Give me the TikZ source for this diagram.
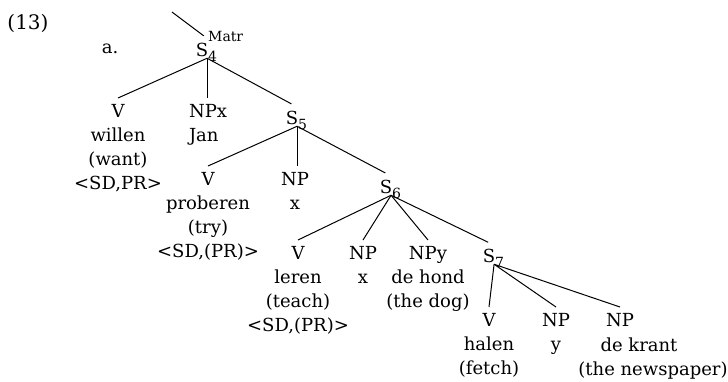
\documentclass[tikz,border=0pt]{standalone}
\usepackage{fontspec}
\setmainfont{DejaVu Serif}
\usetikzlibrary{positioning}

\newcommand{\treefont}{\fontsize{18}{24}\selectfont}
\newcommand{\Scat}[2]{S\rlap{\smash{\raisebox{-5pt}{\fontsize{14}{14}\selectfont #1}}}\rlap{\smash{\raisebox{15pt}{\fontsize{14}{14}\selectfont #2}}}}

\begin{document}
\begin{tikzpicture}[
    x=1pt, y=-1pt,
    font=\treefont,
    leaf/.style={anchor=north, align=center, inner sep=0pt, outer sep=3pt},
    sn/.style={anchor=base, inner sep=0pt, outer sep=2pt},
    word/.style={anchor=base, inner sep=0pt},
    edge/.style={line width=1pt}
]
\useasboundingbox (0,0) rectangle (728,381);

% Example label
\node[word, font=\fontsize{20}{24}\selectfont] (ex) at (28,29) {(13)};
\node[word] (part) at (110,53) {a.};

% Root
\node[sn] (s4) at (202,56) {\Scat{4}{Matr}};
\coordinate (s4up) at (172,12);

% Daughters of S4
\node[leaf] (v1) at (118,98) {\strut V\\willen\\(want)\\<SD,PR>};
\node[leaf, anchor=north west, align=left] (npx) at (186,98) {\strut NPx\\Jan};
\node[sn] (s5) at (292,124) {\Scat{5}{}};

% Daughters of S5
\node[leaf] (v2) at (208,166) {\strut V\\proberen\\(try)\\<SD,(PR)>};
\node[leaf] (np2) at (295,166) {\strut NP\\x};
\node[sn] (s6) at (386,193) {\Scat{6}{}};

% Daughters of S6
\node[leaf] (v3) at (298,240) {\strut V\\leren\\(teach)\\<SD,(PR)>};
\node[leaf] (np3) at (363,240) {\strut NP\\x};
\node[leaf] (npy) at (428,240) {\strut NPy\\de hond\\(the dog)};
\node[sn] (s7) at (489,262) {\Scat{7}{}};

% Daughters of S7
\node[leaf] (v4) at (489,307) {\strut V\\halen\\(fetch)};
\node[leaf] (np4) at (556,307) {\strut NP\\y};
\node[leaf] (np5) at (620,307) {\strut NP};
\node[word] (krant) at (639,351) {de krant};
\node[word] (paper) at (653,375) {(the newspaper)};

% Branches
\draw[edge, shorten >=8pt] (s4up) -- (s4.north east);
\draw[edge] (s4.-60) -- (v1.north);
\draw[edge] (s4.-60) -- (s4.-60 |- npx.north);
\draw[edge, shorten >=10pt] (s4.-60) -- (s5.north east);

\draw[edge] (s5.-60) -- (v2.north);
\draw[edge] (s5.-60) -- (s5.-60 |- np2.north);
\draw[edge, shorten >=10pt] (s5.-60) -- (s6.north east);

\draw[edge] (s6.-60) -- (v3.north);
\draw[edge] (s6.-60) -- (np3.north);
\draw[edge] (s6.-60) -- (npy.north);
\draw[edge, shorten >=10pt] (s6.-60) -- (s7.north east);

\draw[edge] (s7.-60) -- (v4.north);
\draw[edge] (s7.-60) -- (np4.north);
\draw[edge] (s7.-60) -- (np5.north);

\end{tikzpicture}
\end{document}
